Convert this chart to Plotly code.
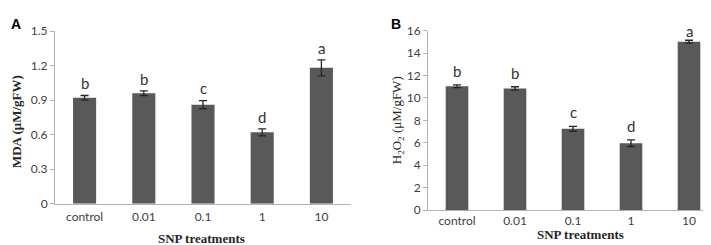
import plotly.graph_objects as go

categories = ["control", "0.01", "0.1", "1", "10"]

mda_values = [0.92, 0.96, 0.86, 0.62, 1.18]
mda_errors = [0.02, 0.02, 0.035, 0.03, 0.07]
mda_letters = ["b", "b", "c", "d", "a"]

h2o2_values = [11.05, 10.85, 7.25, 5.97, 15.02]
h2o2_errors = [0.12, 0.15, 0.22, 0.3, 0.13]
h2o2_letters = ["b", "b", "c", "d", "a"]

positions = list(range(len(categories)))

W, H = 711, 245
BAR = "#595959"
AXIS = "#b3b3b3"
TICKFONT = dict(family="Lato, Open Sans, sans-serif", size=12, color="#404040")
TITLEFONT = "Liberation Serif, Times New Roman, serif"
LETTERFONT = dict(family="Lato, Open Sans, sans-serif", size=15, color="#333333")

A_TOP, A_BOT = 16, 200
B_TOP, B_BOT = 15.7, 206.7
A_MAX, B_MAX = 1.5, 16

fig = go.Figure()

fig.add_trace(go.Bar(
    x=positions, y=mda_values, xaxis="x", yaxis="y",
    marker=dict(color=BAR, line=dict(width=0)),
    error_y=dict(type="data", array=mda_errors, color="#262626", thickness=1.3, width=4),
    showlegend=False,
))
fig.add_trace(go.Bar(
    x=positions, y=h2o2_values, xaxis="x2", yaxis="y2",
    marker=dict(color=BAR, line=dict(width=0)),
    error_y=dict(type="data", array=h2o2_errors, color="#262626", thickness=1.3, width=4),
    showlegend=False,
))


def letter_annots(vals, errs, letters, xref, yref, ymax, top_px, bot_px, gap_px):
    out = []
    px_per_unit = (bot_px - top_px) / ymax
    for p, v, e, l in zip(positions, vals, errs, letters):
        yc = v + e + gap_px / px_per_unit
        if yc > ymax:
            yc = ymax
        out.append(dict(x=p, y=yc, xref=xref, yref=yref, text=l, showarrow=False,
                        yanchor="middle", font=LETTERFONT))
    return out


annotations = []
annotations += letter_annots(mda_values, mda_errors, mda_letters, "x", "y", A_MAX, A_TOP, A_BOT, 13)
annotations += letter_annots(h2o2_values, h2o2_errors, h2o2_letters, "x2", "y2", B_MAX, B_TOP, B_BOT, 15)

# panel letters
annotations.append(dict(x=0.0, y=1.0, xref="paper", yref="paper", text="<b>A</b>", showarrow=False,
                        xanchor="left", yanchor="top", xshift=1, yshift=2,
                        font=dict(family="Liberation Sans, Arial, sans-serif", size=14, color="black")))
annotations.append(dict(x=381 / W, y=1.0, xref="paper", yref="paper", text="<b>B</b>", showarrow=False,
                        xanchor="left", yanchor="top", yshift=2,
                        font=dict(family="Liberation Sans, Arial, sans-serif", size=14, color="black")))

# axis titles
annotations.append(dict(x=194 / W, y=(245 - 237) / H, xref="paper", yref="paper", text="<b>SNP treatments</b>",
                        showarrow=False, xanchor="center", yanchor="middle",
                        font=dict(family=TITLEFONT, size=13, color="#262626")))
annotations.append(dict(x=572 / W, y=(245 - 233) / H, xref="paper", yref="paper", text="<b>SNP treatments</b>",
                        showarrow=False, xanchor="center", yanchor="middle",
                        font=dict(family=TITLEFONT, size=13, color="#262626")))
annotations.append(dict(x=8 / W, y=(245 - 113) / H, xref="paper", yref="paper", text="<b>MDA (μM/gFW)</b>",
                        showarrow=False, xanchor="center", yanchor="middle", textangle=-90,
                        font=dict(family=TITLEFONT, size=13, color="#262626")))
annotations.append(dict(x=389 / W, y=(245 - 111) / H, xref="paper", yref="paper",
                        text="H<sub>2</sub>O<sub>2</sub> (μM/gFW)",
                        showarrow=False, xanchor="center", yanchor="middle", textangle=-90,
                        font=dict(family=TITLEFONT, size=13, color="#262626")))

xcommon = dict(showgrid=False, showline=True, linecolor=AXIS, linewidth=1,
               ticks="", tickfont=TICKFONT, zeroline=False, tickangle=0,
               tickvals=positions, ticktext=categories, range=[-0.5, len(categories) - 0.5])
ycommon = dict(showgrid=False, showline=True, linecolor=AXIS, linewidth=1, ticks="outside",
               ticklen=4, tickcolor=AXIS, tickfont=TICKFONT, zeroline=False)

fig.update_layout(
    width=W, height=H,
    margin=dict(l=0, r=0, t=0, b=0),
    paper_bgcolor="white", plot_bgcolor="white",
    bargap=0.61,
    xaxis=dict(domain=[47 / W, 343 / W], anchor="y", ticklabelstandoff=2, **xcommon),
    yaxis=dict(domain=[(245 - A_BOT) / H, (245 - A_TOP) / H], anchor="x", range=[0, A_MAX],
               tickvals=[0, 0.3, 0.6, 0.9, 1.2, 1.5], ticktext=["0", "0.3", "0.6", "0.9", "1.2", "1.5"],
               **ycommon),
    xaxis2=dict(domain=[420 / W, 710 / W], anchor="y2", **xcommon),
    yaxis2=dict(domain=[(245 - B_BOT) / H, (245 - B_TOP) / H], anchor="x2", range=[0, B_MAX],
                tickvals=[0, 2, 4, 6, 8, 10, 12, 14, 16], **ycommon),
    annotations=annotations,
)

fig.write_html("out.html")
